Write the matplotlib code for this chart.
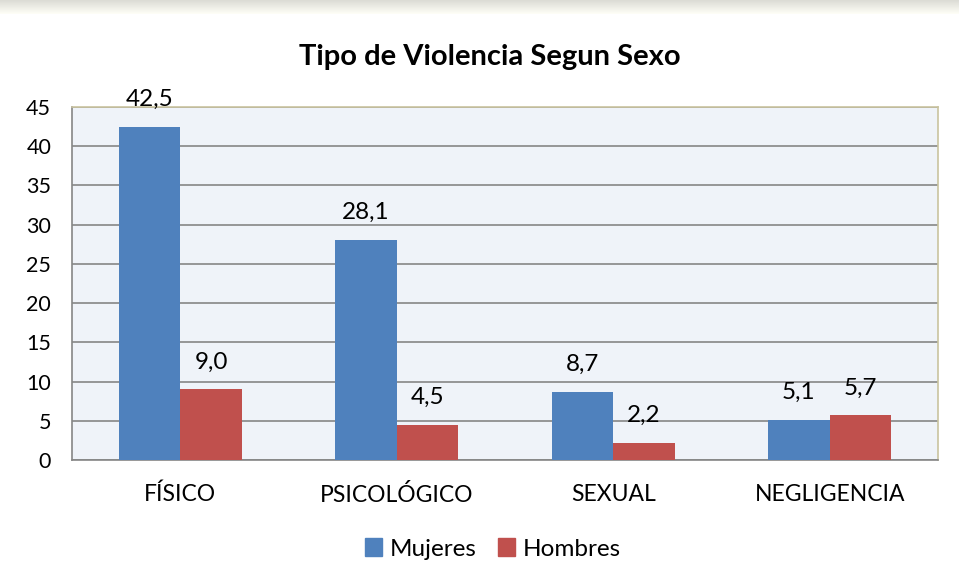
import numpy as np
import matplotlib.pyplot as plt
from matplotlib.patches import Patch

plt.rcParams['font.family'] = ['Lato', 'DejaVu Sans']

# ---------- datos ----------
categorias = ["FÍSICO", "PSICOLÓGICO", "SEXUAL", "NEGLIGENCIA"]
mujeres = [42.5, 28.1, 8.7, 5.1]
hombres = [9.0, 4.5, 2.2, 5.7]
series = ["Mujeres", "Hombres"]

azul = '#4F81BD'
rojo = '#C0504D'

fig = plt.figure(figsize=(9.59, 5.8), dpi=100)

# ---------- sombra superior ----------
sombra = fig.add_axes([0, 1 - 14 / 580, 1, 14 / 580])
grad = np.linspace(0.86, 1.0, 50).reshape(-1, 1)
sombra.imshow(np.dstack([grad, grad, grad * 0.97]), aspect='auto', extent=[0, 1, 0, 1])
sombra.axis('off')

ax = fig.add_axes([72 / 959, 1 - 460 / 580, (938 - 72) / 959, (460 - 107) / 580])
ax.set_facecolor('#EFF3F9')

x = np.arange(len(categorias))
w = 0.285
b1 = ax.bar(x - w / 2, mujeres, w, color=azul, zorder=3, label=series[0])
b2 = ax.bar(x + w / 2, hombres, w, color=rojo, zorder=3, label=series[1])

for bars, vals in [(b1, mujeres), (b2, hombres)]:
    for r, v in zip(bars, vals):
        ax.annotate(f"{v:.1f}".replace('.', ','),
                    (r.get_x() + r.get_width() / 2, v),
                    xytext=(0, 12), textcoords='offset points',
                    ha='center', va='bottom', fontsize=17.5)

ax.set_xlim(-0.5, len(categorias) - 0.5)
ax.set_ylim(0, 45)
ax.set_yticks(range(0, 46, 5))
ax.set_xticks(x)
ax.set_xticklabels(categorias)
ax.tick_params(axis='y', labelsize=15.5, length=0, pad=15)
ax.tick_params(axis='x', labelsize=16.5, length=0, pad=17)
ax.grid(axis='y', color='#868686', lw=1.2, zorder=1)

for s in ['left', 'bottom']:
    ax.spines[s].set_color('#868686')
    ax.spines[s].set_linewidth(1.2)
for s in ['top', 'right']:
    ax.spines[s].set_color('#C9C3A0')
    ax.spines[s].set_linewidth(1.2)

fig.text(490 / 959, 1 - 57 / 580, "Tipo de Violencia Segun Sexo",
         ha='center', va='center', fontsize=21, weight='bold')

handles = [Patch(color=azul), Patch(color=rojo)]
fig.legend(handles, series, loc='center', bbox_to_anchor=(493 / 959, 1 - 549 / 580),
           ncol=2, frameon=False, fontsize=17.5, handlelength=0.7, handleheight=0.7,
           handletextpad=0.3, columnspacing=0.9)

plt.savefig("out.png", dpi=100)
